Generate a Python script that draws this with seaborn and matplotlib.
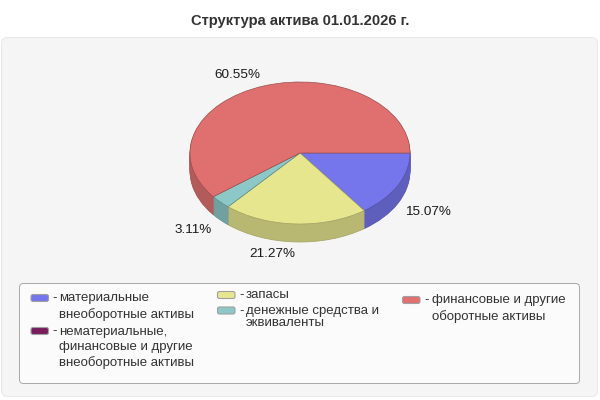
import matplotlib
matplotlib.use('Agg')
import matplotlib.pyplot as plt
import seaborn as sns
from matplotlib.patches import FancyBboxPatch

# данные
title = 'Структура актива 01.01.2026 г.'
categories = ['материальные\nвнеоборотные активы',
              'нематериальные,\nфинансовые и другие\nвнеоборотные активы',
              'запасы',
              'денежные средства и\nэквиваленты',
              'финансовые и другие\nоборотные активы']
values = [15.07, 0.0, 21.27, 3.11, 60.55]
pct_labels = ['15.07%', '', '21.27%', '3.11%', '60.55%']
colors = ['#7676ec', '#781c5c', '#e6e68e', '#8cc8c8', '#e07070']

sns.set_theme(style='white')
plt.rcParams['font.family'] = ['Liberation Sans', 'DejaVu Sans']
palette = sns.color_palette(colors)
side_colors = [tuple(c * 0.8 for c in col) for col in palette]
edge_colors = [tuple(c * 0.7 for c in col) for col in palette]

fig = plt.figure(figsize=(6, 4), dpi=100, facecolor='white')

# фон и подписи в пикселях
bg = fig.add_axes([0, 0, 1, 1])
bg.set_xlim(0, 600)
bg.set_ylim(400, 0)
bg.axis('off')

bg.add_patch(FancyBboxPatch((1.5, 37.5), 596, 359, boxstyle='round,pad=0,rounding_size=6',
                            fc='#f5f5f5', ec='#e8e8e8', lw=0.7))
bg.add_patch(FancyBboxPatch((19.5, 283.5), 560, 100, boxstyle='round,pad=0,rounding_size=4',
                            fc='#fbfbfb', ec='#a8a8a8', lw=0.7))
bg.text(300, 21, title, ha='center', va='center', fontsize=10.6, fontweight='bold', color='#333333')

# пирог: верхняя грань 190..410 x 82..224, высота 18 px
ry = 71
depth = 18 / ry
ax = fig.add_axes([190 / 600, 1 - 242 / 400, 220 / 600, 160 / 400])
ax.patch.set_alpha(0)


def draw_pie(shift, fill, edge, lw):
    wedges, _ = ax.pie(values, colors=fill, startangle=0, counterclock=False,
                       center=(0, -shift), radius=1,
                       wedgeprops={'linewidth': lw})
    for w, e, v in zip(wedges, edge, values):
        w.set_edgecolor(e)
        w.set_visible(v > 0)


for i in range(18, 0, -1):
    draw_pie(i / ry, side_colors, edge_colors if i == 18 else side_colors, 0.5)
draw_pie(0, palette, edge_colors, 0.5)

ax.set_aspect('auto')
ax.set_xlim(-1, 1)
ax.set_ylim(-1 - depth, 1)

# подписи процентов
label_pos = {'15.07%': (428, 212), '21.27%': (272, 254), '3.11%': (193, 230), '60.55%': (237, 75)}
for lab in pct_labels:
    if lab:
        bg.text(*label_pos[lab], lab, ha='center', va='center', fontsize=9.7, color='#1a1a1a')

# легенда
legend_pos = [(31, 298.5), (31, 331.5), (217.5, 295.5), (217.5, 311), (402.5, 300.5)]
text_off = [28, 28, 28.5, 28.5, 29.5]
line_h = [15.7, 15.7, 15, 12.5, 15.7]
for cat, col, (x, y), off, lh in zip(categories, palette, legend_pos, text_off, line_h):
    bg.add_patch(FancyBboxPatch((x, y - 4), 17.5, 7, boxstyle='round,pad=0,rounding_size=2',
                                fc=col, ec='#a0a0a0', lw=0.8))
    bg.text(x + 21.5, y, '-', ha='left', va='center', fontsize=9.5, color='#333333')
    for k, line in enumerate(cat.split('\n')):
        bg.text(x + off, y + k * lh, line, ha='left', va='center', fontsize=9.5, color='#333333')

fig.savefig('out.png', dpi=100)
